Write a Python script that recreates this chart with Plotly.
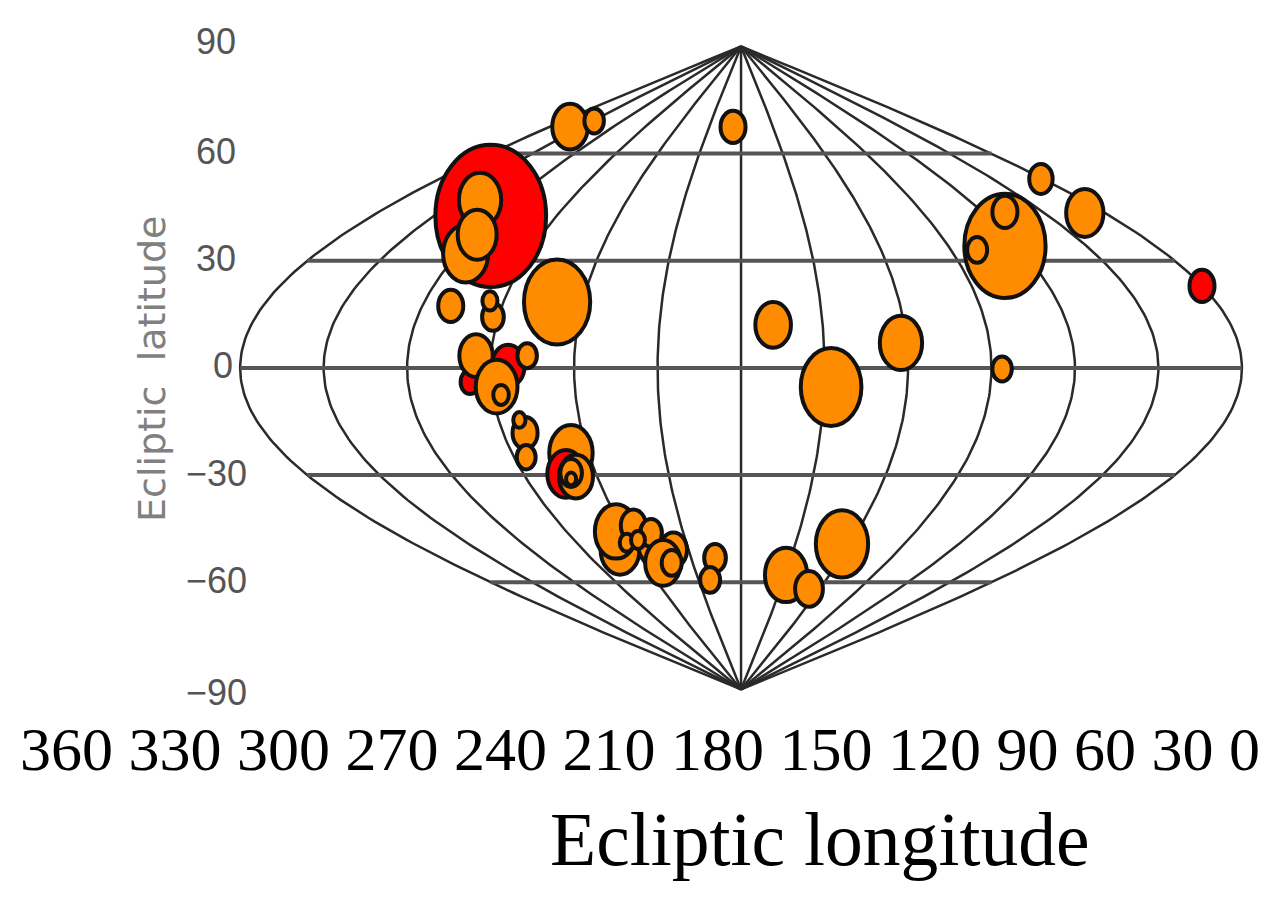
import numpy as np
import plotly.graph_objects as go

# Sources: ecliptic longitude, latitude (deg), circle radius (deg)
lon = [302.1, 317.6, 296.7, 299.2, 340.9, 328.3, 249.7, 289.3, 272.0, 275.3,
       263.7, 277.6, 275.4, 257.0, 268.2, 267.0, 261.7, 262.3, 265.2,
       246.8, 252.4, 248.8, 250.1, 251.3, 248.9, 244.4, 230.3, 233.9, 226.7,
       242.5, 235.5, 218.6, 228.4, 223.0, 195.6, 201.8, 187.5, 1.3, 10.0,
       65.4, 48.9, 78.8, 0.1, 86.2, 122.1, 168.2, 147.5, 124.4, 149.5, 128.2]
lat = [42.55, 47.03, 32.0, 37.3, 67.55, 69.15, 18.48, 17.36, 14.28, 18.76,
       0.56, -3.92, 3.44, 3.44, -5.24, -7.56, -18.2, -14.56, -25.0,
       -23.8, -29.67, -30.43, -29.4, -31.07, -50.87, -45.77, -50.03, -44.1, -46.19,
       -48.9, -48.15, -50.95, -54.59, -54.59, -53.19, -59.35, 67.47, 52.91, 43.39,
       34.15, 43.67, 33.03, 22.96, -0.28, 7.0, 12.04, -5.32, -49.27, -57.95, -61.87]
radius = [19.9, 7.6, 8.1, 7.0, 6.4, 3.5, 11.9, 4.5, 3.9, 2.7,
          5.9, 3.4, 6.0, 3.5, 7.5, 2.8, 4.5, 2.2, 3.4,
          7.8, 6.7, 6.1, 3.9, 1.8, 7.0, 7.6, 4.5, 4.5, 3.9,
          2.5, 2.5, 4.9, 6.4, 3.6, 3.9, 3.6, 4.5, 4.2, 6.7,
          14.6, 4.5, 3.6, 4.5, 3.5, 7.6, 6.4, 10.9, 9.4, 7.6, 5.0]
is_red = [1, 0, 0, 0, 0, 0, 0, 0, 0, 0,
          1, 1, 0, 0, 0, 0, 0, 0, 0,
          0, 1, 0, 0, 0, 0, 0, 0, 0, 0,
          0, 0, 0, 0, 0, 0, 0, 0, 0, 0,
          0, 0, 0, 1, 0, 0, 0, 0, 0, 0, 0]

lat_ticks = [90, 60, 30, 0, -30, -60, -90]
lat_labels = ["90", "60", "30", "0", "\u221230", "\u221260", "\u221290"]
lat_label_right = [238, 238, 238, 235, 249, 249, 249]
lat_label_shift = [5, 2, 2, 2, 2, 2, -3]
lon_labels = ["360", "330", "300", "270", "240", "210", "180", "150", "120", "90", "60", "30", "0"]


def project(lo, la):
    # sinusoidal projection, centred on 180
    return (np.asarray(lo) - 180) * np.cos(np.radians(la))


W, H = 1282, 897
fig = go.Figure()

# graticule
lats = np.linspace(-90, 90, 181)
for m in range(0, 361, 30):
    fig.add_trace(go.Scatter(x=project(np.full(lats.shape, m), lats), y=lats, mode="lines",
                             line=dict(color="#2a2a2a", width=2.5), hoverinfo="skip", showlegend=False))
for p in [-60, -30, 0, 30, 60]:
    fig.add_trace(go.Scatter(x=project([0, 360], [p, p]), y=[p, p], mode="lines",
                             line=dict(color="#555555", width=4), hoverinfo="skip", showlegend=False))

# sources as circles in map units, so they come out taller than wide like the original
for lo, la, r, red in zip(lon, lat, radius, is_red):
    cx = float(project(lo, la))
    fig.add_shape(type="circle", xref="x", yref="y",
                  x0=cx - r, x1=cx + r, y0=la - r, y1=la + r,
                  fillcolor="#ff0000" if red else "#ff8c00",
                  line=dict(color="#111111", width=4))

annotations = []
for t, s, right, shift in zip(lat_ticks, lat_labels, lat_label_right, lat_label_shift):
    annotations.append(dict(text=s, xref="paper", yref="y", x=right / W, y=t, yshift=shift,
                            xanchor="right", yanchor="middle", showarrow=False,
                            font=dict(family="Liberation Sans", size=36, color="#555555")))
annotations.append(dict(text="Ecliptic  latitude", xref="paper", yref="paper", x=152 / W, y=1 - 369 / H,
                        textangle=-90, showarrow=False, xanchor="center", yanchor="middle",
                        font=dict(family="DejaVu Sans", size=38, color="#808080")))
annotations.append(dict(text=" ".join(lon_labels), xref="paper", yref="paper", x=640 / W, y=1 - 749 / H,
                        showarrow=False, xanchor="center", yanchor="middle",
                        font=dict(family="Liberation Serif", size=62, color="#000000")))
annotations.append(dict(text="Ecliptic longitude", xref="paper", yref="paper", x=820 / W, y=1 - 839 / H,
                        showarrow=False, xanchor="center", yanchor="middle",
                        font=dict(family="Liberation Serif", size=75.6, color="#000000")))

fig.update_layout(
    width=W, height=H, margin=dict(l=0, r=0, t=0, b=0),
    paper_bgcolor="white", plot_bgcolor="white", showlegend=False,
    annotations=annotations,
    xaxis=dict(range=[266.3, -194.4], visible=False, fixedrange=True),
    yaxis=dict(range=[-148.1, 103.0], visible=False, fixedrange=True),
)

fig.write_html("out.html", config={"displayModeBar": False},
               post_script="document.body.style.margin='0';")
